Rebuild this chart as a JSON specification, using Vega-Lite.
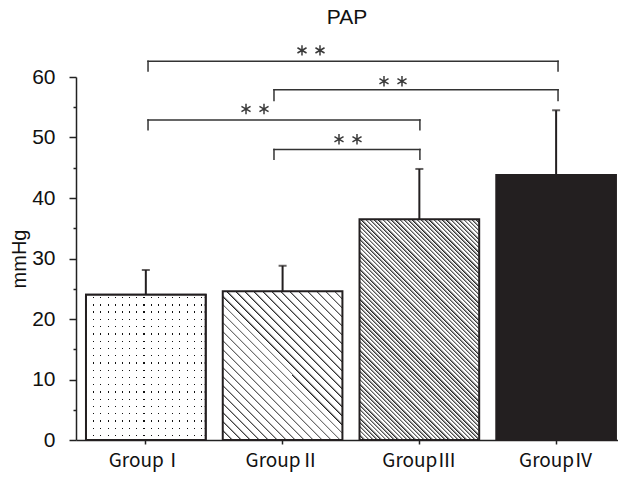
{
"$schema": "https://vega.github.io/schema/vega-lite/v6.json",
"width": 542, "height": 363,
"autosize": "none",
"padding": {"left": 76, "top": 77, "right": 0, "bottom": 38},
"background": "white",
"title": {"text": "PAP", "fontSize": 21, "font": "Liberation Sans", "fontWeight": "normal", "color": "#111", "anchor": "middle", "offset": 14},
"config": {"view": {"stroke": null}, "axis": {"grid": false}},
"datasets": {
"bars": [
{"group": "GroupⅠ", "value": 24.0, "err": 28.1},
{"group": "GroupⅡ", "value": 24.6, "err": 28.8},
{"group": "GroupⅢ", "value": 36.5, "err": 44.8},
{"group": "GroupⅣ", "value": 43.8, "err": 54.5}
],
"brackets": [
{"x1": 1.016, "x2": 4.014, "y": 62.6, "yb": 61.0},
{"x1": 1.937, "x2": 4.014, "y": 57.9, "yb": 56.1},
{"x1": 1.016, "x2": 3.004, "y": 52.9, "yb": 51.3},
{"x1": 1.937, "x2": 3.004, "y": 48.0, "yb": 46.4}
],
"stars": [
{"sx": 2.1418, "sy": 64.4}, {"sx": 2.2734, "sy": 64.4},
{"sx": 2.7414, "sy": 59.3}, {"sx": 2.8730, "sy": 59.3},
{"sx": 1.7324, "sy": 54.7}, {"sx": 1.8640, "sy": 54.7},
{"sx": 2.4124, "sy": 49.7}, {"sx": 2.5440, "sy": 49.7}
]
},
"layer": [
{
"data": {"name": "bars"},
"encoding": {
"x": {"field": "group", "type": "nominal", "sort": null,
"scale": {"domain": ["GroupⅠ", "GroupⅡ", "GroupⅢ", "GroupⅣ"], "paddingInner": 0.125, "paddingOuter": 0.044, "align": 0.83},
"axis": {"title": null, "labelAngle": 0, "labelFont": "Noto Sans CJK KR", "labelFontSize": 19, "labelColor": "#111", "labelPadding": 7, "tickSize": 4, "tickWidth": 1.5, "tickColor": "#222", "domainColor": "#222", "domainWidth": 1.5}},
"y": {"field": "value", "type": "quantitative",
"scale": {"domain": [0, 60], "nice": false},
"axis": {"title": "mmHg", "titleFont": "Liberation Sans", "titleFontSize": 20, "titleFontWeight": "normal", "titleColor": "#111", "titlePadding": 2, "values": [0, 10, 20, 30, 40, 50, 60], "labelFont": "Liberation Sans", "labelFontSize": 21, "labelColor": "#111", "labelPadding": 14, "tickSize": 7, "tickWidth": 1.5, "tickColor": "#222", "domainColor": "#222", "domainWidth": 1.5}}
},
"layer": [
{"transform": [{"filter": "datum.group === 'GroupⅠ'"}],
"mark": {"type": "bar", "stroke": "#231f20", "strokeWidth": 2, "fill": {"gradient": "linear", "x1": 0, "y1": 0, "x2": 1, "y2": 0, "stops": [
{"offset": 0, "color": "#fff"},
{"offset": 0.06, "color": "#fff"}, {"offset": 0.06, "color": "#111"}, {"offset": 0.0695, "color": "#111"}, {"offset": 0.0695, "color": "#fff"},
{"offset": 0.12, "color": "#fff"}, {"offset": 0.12, "color": "#111"}, {"offset": 0.1295, "color": "#111"}, {"offset": 0.1295, "color": "#fff"},
{"offset": 0.18, "color": "#fff"}, {"offset": 0.18, "color": "#111"}, {"offset": 0.1895, "color": "#111"}, {"offset": 0.1895, "color": "#fff"},
{"offset": 0.24, "color": "#fff"}, {"offset": 0.24, "color": "#111"}, {"offset": 0.2495, "color": "#111"}, {"offset": 0.2495, "color": "#fff"},
{"offset": 0.3, "color": "#fff"}, {"offset": 0.3, "color": "#111"}, {"offset": 0.3095, "color": "#111"}, {"offset": 0.3095, "color": "#fff"},
{"offset": 0.36, "color": "#fff"}, {"offset": 0.36, "color": "#111"}, {"offset": 0.3695, "color": "#111"}, {"offset": 0.3695, "color": "#fff"},
{"offset": 0.42, "color": "#fff"}, {"offset": 0.42, "color": "#111"}, {"offset": 0.4295, "color": "#111"}, {"offset": 0.4295, "color": "#fff"},
{"offset": 0.48, "color": "#fff"}, {"offset": 0.48, "color": "#111"}, {"offset": 0.4895, "color": "#111"}, {"offset": 0.4895, "color": "#fff"},
{"offset": 0.54, "color": "#fff"}, {"offset": 0.54, "color": "#111"}, {"offset": 0.5495, "color": "#111"}, {"offset": 0.5495, "color": "#fff"},
{"offset": 0.6, "color": "#fff"}, {"offset": 0.6, "color": "#111"}, {"offset": 0.6095, "color": "#111"}, {"offset": 0.6095, "color": "#fff"},
{"offset": 0.66, "color": "#fff"}, {"offset": 0.66, "color": "#111"}, {"offset": 0.6695, "color": "#111"}, {"offset": 0.6695, "color": "#fff"},
{"offset": 0.72, "color": "#fff"}, {"offset": 0.72, "color": "#111"}, {"offset": 0.7295, "color": "#111"}, {"offset": 0.7295, "color": "#fff"},
{"offset": 0.78, "color": "#fff"}, {"offset": 0.78, "color": "#111"}, {"offset": 0.7895, "color": "#111"}, {"offset": 0.7895, "color": "#fff"},
{"offset": 0.84, "color": "#fff"}, {"offset": 0.84, "color": "#111"}, {"offset": 0.8495, "color": "#111"}, {"offset": 0.8495, "color": "#fff"},
{"offset": 0.9, "color": "#fff"}, {"offset": 0.9, "color": "#111"}, {"offset": 0.9095, "color": "#111"}, {"offset": 0.9095, "color": "#fff"},
{"offset": 0.96, "color": "#fff"}, {"offset": 0.96, "color": "#111"}, {"offset": 0.9695, "color": "#111"}, {"offset": 0.9695, "color": "#fff"},
{"offset": 1, "color": "#fff"}]}}},
{"transform": [{"filter": "datum.group === 'GroupⅠ'"}],
"mark": {"type": "bar", "stroke": "#231f20", "strokeWidth": 2, "fill": {"gradient": "linear", "x1": 0, "y1": 0, "x2": 0, "y2": 1, "stops": [
{"offset": 0, "color": "#fff"},
{"offset": 0.015, "color": "#fff"}, {"offset": 0.015, "color": "rgba(255,255,255,0)"}, {"offset": 0.024, "color": "rgba(255,255,255,0)"}, {"offset": 0.024, "color": "#fff"},
{"offset": 0.065, "color": "#fff"}, {"offset": 0.065, "color": "rgba(255,255,255,0)"}, {"offset": 0.074, "color": "rgba(255,255,255,0)"}, {"offset": 0.074, "color": "#fff"},
{"offset": 0.115, "color": "#fff"}, {"offset": 0.115, "color": "rgba(255,255,255,0)"}, {"offset": 0.124, "color": "rgba(255,255,255,0)"}, {"offset": 0.124, "color": "#fff"},
{"offset": 0.165, "color": "#fff"}, {"offset": 0.165, "color": "rgba(255,255,255,0)"}, {"offset": 0.174, "color": "rgba(255,255,255,0)"}, {"offset": 0.174, "color": "#fff"},
{"offset": 0.215, "color": "#fff"}, {"offset": 0.215, "color": "rgba(255,255,255,0)"}, {"offset": 0.224, "color": "rgba(255,255,255,0)"}, {"offset": 0.224, "color": "#fff"},
{"offset": 0.265, "color": "#fff"}, {"offset": 0.265, "color": "rgba(255,255,255,0)"}, {"offset": 0.274, "color": "rgba(255,255,255,0)"}, {"offset": 0.274, "color": "#fff"},
{"offset": 0.315, "color": "#fff"}, {"offset": 0.315, "color": "rgba(255,255,255,0)"}, {"offset": 0.324, "color": "rgba(255,255,255,0)"}, {"offset": 0.324, "color": "#fff"},
{"offset": 0.365, "color": "#fff"}, {"offset": 0.365, "color": "rgba(255,255,255,0)"}, {"offset": 0.374, "color": "rgba(255,255,255,0)"}, {"offset": 0.374, "color": "#fff"},
{"offset": 0.415, "color": "#fff"}, {"offset": 0.415, "color": "rgba(255,255,255,0)"}, {"offset": 0.424, "color": "rgba(255,255,255,0)"}, {"offset": 0.424, "color": "#fff"},
{"offset": 0.465, "color": "#fff"}, {"offset": 0.465, "color": "rgba(255,255,255,0)"}, {"offset": 0.474, "color": "rgba(255,255,255,0)"}, {"offset": 0.474, "color": "#fff"},
{"offset": 0.515, "color": "#fff"}, {"offset": 0.515, "color": "rgba(255,255,255,0)"}, {"offset": 0.524, "color": "rgba(255,255,255,0)"}, {"offset": 0.524, "color": "#fff"},
{"offset": 0.565, "color": "#fff"}, {"offset": 0.565, "color": "rgba(255,255,255,0)"}, {"offset": 0.574, "color": "rgba(255,255,255,0)"}, {"offset": 0.574, "color": "#fff"},
{"offset": 0.615, "color": "#fff"}, {"offset": 0.615, "color": "rgba(255,255,255,0)"}, {"offset": 0.624, "color": "rgba(255,255,255,0)"}, {"offset": 0.624, "color": "#fff"},
{"offset": 0.665, "color": "#fff"}, {"offset": 0.665, "color": "rgba(255,255,255,0)"}, {"offset": 0.674, "color": "rgba(255,255,255,0)"}, {"offset": 0.674, "color": "#fff"},
{"offset": 0.715, "color": "#fff"}, {"offset": 0.715, "color": "rgba(255,255,255,0)"}, {"offset": 0.724, "color": "rgba(255,255,255,0)"}, {"offset": 0.724, "color": "#fff"},
{"offset": 0.765, "color": "#fff"}, {"offset": 0.765, "color": "rgba(255,255,255,0)"}, {"offset": 0.774, "color": "rgba(255,255,255,0)"}, {"offset": 0.774, "color": "#fff"},
{"offset": 0.815, "color": "#fff"}, {"offset": 0.815, "color": "rgba(255,255,255,0)"}, {"offset": 0.824, "color": "rgba(255,255,255,0)"}, {"offset": 0.824, "color": "#fff"},
{"offset": 0.865, "color": "#fff"}, {"offset": 0.865, "color": "rgba(255,255,255,0)"}, {"offset": 0.874, "color": "rgba(255,255,255,0)"}, {"offset": 0.874, "color": "#fff"},
{"offset": 0.915, "color": "#fff"}, {"offset": 0.915, "color": "rgba(255,255,255,0)"}, {"offset": 0.924, "color": "rgba(255,255,255,0)"}, {"offset": 0.924, "color": "#fff"},
{"offset": 0.965, "color": "#fff"}, {"offset": 0.965, "color": "rgba(255,255,255,0)"}, {"offset": 0.974, "color": "rgba(255,255,255,0)"}, {"offset": 0.974, "color": "#fff"},
{"offset": 1, "color": "#fff"}]}}},
{"transform": [{"filter": "datum.group === 'GroupⅡ'"}],
"mark": {"type": "bar", "stroke": "#231f20", "strokeWidth": 2, "fill": {"gradient": "linear", "x1": 0, "y1": 1, "x2": 0.8813, "y2": -0.0955, "stops": [
{"offset": 0, "color": "#222"}, {"offset": 0.009, "color": "#fff"},
{"offset": 0.0333, "color": "#fff"}, {"offset": 0.0333, "color": "#222"}, {"offset": 0.0423, "color": "#fff"},
{"offset": 0.0667, "color": "#fff"}, {"offset": 0.0667, "color": "#222"}, {"offset": 0.0757, "color": "#fff"},
{"offset": 0.1, "color": "#fff"}, {"offset": 0.1, "color": "#222"}, {"offset": 0.109, "color": "#fff"},
{"offset": 0.1333, "color": "#fff"}, {"offset": 0.1333, "color": "#222"}, {"offset": 0.1423, "color": "#fff"},
{"offset": 0.1667, "color": "#fff"}, {"offset": 0.1667, "color": "#222"}, {"offset": 0.1757, "color": "#fff"},
{"offset": 0.2, "color": "#fff"}, {"offset": 0.2, "color": "#222"}, {"offset": 0.209, "color": "#fff"},
{"offset": 0.2333, "color": "#fff"}, {"offset": 0.2333, "color": "#222"}, {"offset": 0.2423, "color": "#fff"},
{"offset": 0.2667, "color": "#fff"}, {"offset": 0.2667, "color": "#222"}, {"offset": 0.2757, "color": "#fff"},
{"offset": 0.3, "color": "#fff"}, {"offset": 0.3, "color": "#222"}, {"offset": 0.309, "color": "#fff"},
{"offset": 0.3333, "color": "#fff"}, {"offset": 0.3333, "color": "#222"}, {"offset": 0.3423, "color": "#fff"},
{"offset": 0.3667, "color": "#fff"}, {"offset": 0.3667, "color": "#222"}, {"offset": 0.3757, "color": "#fff"},
{"offset": 0.4, "color": "#fff"}, {"offset": 0.4, "color": "#222"}, {"offset": 0.409, "color": "#fff"},
{"offset": 0.4333, "color": "#fff"}, {"offset": 0.4333, "color": "#222"}, {"offset": 0.4423, "color": "#fff"},
{"offset": 0.4667, "color": "#fff"}, {"offset": 0.4667, "color": "#222"}, {"offset": 0.4757, "color": "#fff"},
{"offset": 0.5, "color": "#fff"}, {"offset": 0.5, "color": "#222"}, {"offset": 0.509, "color": "#fff"},
{"offset": 0.5333, "color": "#fff"}, {"offset": 0.5333, "color": "#222"}, {"offset": 0.5423, "color": "#fff"},
{"offset": 0.5667, "color": "#fff"}, {"offset": 0.5667, "color": "#222"}, {"offset": 0.5757, "color": "#fff"},
{"offset": 0.6, "color": "#fff"}, {"offset": 0.6, "color": "#222"}, {"offset": 0.609, "color": "#fff"},
{"offset": 0.6333, "color": "#fff"}, {"offset": 0.6333, "color": "#222"}, {"offset": 0.6423, "color": "#fff"},
{"offset": 0.6667, "color": "#fff"}, {"offset": 0.6667, "color": "#222"}, {"offset": 0.6757, "color": "#fff"},
{"offset": 0.7, "color": "#fff"}, {"offset": 0.7, "color": "#222"}, {"offset": 0.709, "color": "#fff"},
{"offset": 0.7333, "color": "#fff"}, {"offset": 0.7333, "color": "#222"}, {"offset": 0.7423, "color": "#fff"},
{"offset": 0.7667, "color": "#fff"}, {"offset": 0.7667, "color": "#222"}, {"offset": 0.7757, "color": "#fff"},
{"offset": 0.8, "color": "#fff"}, {"offset": 0.8, "color": "#222"}, {"offset": 0.809, "color": "#fff"},
{"offset": 0.8333, "color": "#fff"}, {"offset": 0.8333, "color": "#222"}, {"offset": 0.8423, "color": "#fff"},
{"offset": 0.8667, "color": "#fff"}, {"offset": 0.8667, "color": "#222"}, {"offset": 0.8757, "color": "#fff"},
{"offset": 0.9, "color": "#fff"}, {"offset": 0.9, "color": "#222"}, {"offset": 0.909, "color": "#fff"},
{"offset": 0.9333, "color": "#fff"}, {"offset": 0.9333, "color": "#222"}, {"offset": 0.9423, "color": "#fff"},
{"offset": 0.9667, "color": "#fff"}, {"offset": 0.9667, "color": "#222"}, {"offset": 0.9757, "color": "#fff"},
{"offset": 1, "color": "#fff"}]}}},
{"transform": [{"filter": "datum.group === 'GroupⅢ'"}],
"mark": {"type": "bar", "stroke": "#231f20", "strokeWidth": 2, "fill": {"gradient": "linear", "x1": 0, "y1": 1, "x2": 0.6461, "y2": -0.1919, "stops": [
{"offset": 0, "color": "#222"}, {"offset": 0.0085, "color": "#fff"},
{"offset": 0.0125, "color": "#fff"}, {"offset": 0.0125, "color": "#222"}, {"offset": 0.021, "color": "#fff"},
{"offset": 0.025, "color": "#fff"}, {"offset": 0.025, "color": "#222"}, {"offset": 0.0335, "color": "#fff"},
{"offset": 0.0375, "color": "#fff"}, {"offset": 0.0375, "color": "#222"}, {"offset": 0.046, "color": "#fff"},
{"offset": 0.05, "color": "#fff"}, {"offset": 0.05, "color": "#222"}, {"offset": 0.0585, "color": "#fff"},
{"offset": 0.0625, "color": "#fff"}, {"offset": 0.0625, "color": "#222"}, {"offset": 0.071, "color": "#fff"},
{"offset": 0.075, "color": "#fff"}, {"offset": 0.075, "color": "#222"}, {"offset": 0.0835, "color": "#fff"},
{"offset": 0.0875, "color": "#fff"}, {"offset": 0.0875, "color": "#222"}, {"offset": 0.096, "color": "#fff"},
{"offset": 0.1, "color": "#fff"}, {"offset": 0.1, "color": "#222"}, {"offset": 0.1085, "color": "#fff"},
{"offset": 0.1125, "color": "#fff"}, {"offset": 0.1125, "color": "#222"}, {"offset": 0.121, "color": "#fff"},
{"offset": 0.125, "color": "#fff"}, {"offset": 0.125, "color": "#222"}, {"offset": 0.1335, "color": "#fff"},
{"offset": 0.1375, "color": "#fff"}, {"offset": 0.1375, "color": "#222"}, {"offset": 0.146, "color": "#fff"},
{"offset": 0.15, "color": "#fff"}, {"offset": 0.15, "color": "#222"}, {"offset": 0.1585, "color": "#fff"},
{"offset": 0.1625, "color": "#fff"}, {"offset": 0.1625, "color": "#222"}, {"offset": 0.171, "color": "#fff"},
{"offset": 0.175, "color": "#fff"}, {"offset": 0.175, "color": "#222"}, {"offset": 0.1835, "color": "#fff"},
{"offset": 0.1875, "color": "#fff"}, {"offset": 0.1875, "color": "#222"}, {"offset": 0.196, "color": "#fff"},
{"offset": 0.2, "color": "#fff"}, {"offset": 0.2, "color": "#222"}, {"offset": 0.2085, "color": "#fff"},
{"offset": 0.2125, "color": "#fff"}, {"offset": 0.2125, "color": "#222"}, {"offset": 0.221, "color": "#fff"},
{"offset": 0.225, "color": "#fff"}, {"offset": 0.225, "color": "#222"}, {"offset": 0.2335, "color": "#fff"},
{"offset": 0.2375, "color": "#fff"}, {"offset": 0.2375, "color": "#222"}, {"offset": 0.246, "color": "#fff"},
{"offset": 0.25, "color": "#fff"}, {"offset": 0.25, "color": "#222"}, {"offset": 0.2585, "color": "#fff"},
{"offset": 0.2625, "color": "#fff"}, {"offset": 0.2625, "color": "#222"}, {"offset": 0.271, "color": "#fff"},
{"offset": 0.275, "color": "#fff"}, {"offset": 0.275, "color": "#222"}, {"offset": 0.2835, "color": "#fff"},
{"offset": 0.2875, "color": "#fff"}, {"offset": 0.2875, "color": "#222"}, {"offset": 0.296, "color": "#fff"},
{"offset": 0.3, "color": "#fff"}, {"offset": 0.3, "color": "#222"}, {"offset": 0.3085, "color": "#fff"},
{"offset": 0.3125, "color": "#fff"}, {"offset": 0.3125, "color": "#222"}, {"offset": 0.321, "color": "#fff"},
{"offset": 0.325, "color": "#fff"}, {"offset": 0.325, "color": "#222"}, {"offset": 0.3335, "color": "#fff"},
{"offset": 0.3375, "color": "#fff"}, {"offset": 0.3375, "color": "#222"}, {"offset": 0.346, "color": "#fff"},
{"offset": 0.35, "color": "#fff"}, {"offset": 0.35, "color": "#222"}, {"offset": 0.3585, "color": "#fff"},
{"offset": 0.3625, "color": "#fff"}, {"offset": 0.3625, "color": "#222"}, {"offset": 0.371, "color": "#fff"},
{"offset": 0.375, "color": "#fff"}, {"offset": 0.375, "color": "#222"}, {"offset": 0.3835, "color": "#fff"},
{"offset": 0.3875, "color": "#fff"}, {"offset": 0.3875, "color": "#222"}, {"offset": 0.396, "color": "#fff"},
{"offset": 0.4, "color": "#fff"}, {"offset": 0.4, "color": "#222"}, {"offset": 0.4085, "color": "#fff"},
{"offset": 0.4125, "color": "#fff"}, {"offset": 0.4125, "color": "#222"}, {"offset": 0.421, "color": "#fff"},
{"offset": 0.425, "color": "#fff"}, {"offset": 0.425, "color": "#222"}, {"offset": 0.4335, "color": "#fff"},
{"offset": 0.4375, "color": "#fff"}, {"offset": 0.4375, "color": "#222"}, {"offset": 0.446, "color": "#fff"},
{"offset": 0.45, "color": "#fff"}, {"offset": 0.45, "color": "#222"}, {"offset": 0.4585, "color": "#fff"},
{"offset": 0.4625, "color": "#fff"}, {"offset": 0.4625, "color": "#222"}, {"offset": 0.471, "color": "#fff"},
{"offset": 0.475, "color": "#fff"}, {"offset": 0.475, "color": "#222"}, {"offset": 0.4835, "color": "#fff"},
{"offset": 0.4875, "color": "#fff"}, {"offset": 0.4875, "color": "#222"}, {"offset": 0.496, "color": "#fff"},
{"offset": 0.5, "color": "#fff"}, {"offset": 0.5, "color": "#222"}, {"offset": 0.5085, "color": "#fff"},
{"offset": 0.5125, "color": "#fff"}, {"offset": 0.5125, "color": "#222"}, {"offset": 0.521, "color": "#fff"},
{"offset": 0.525, "color": "#fff"}, {"offset": 0.525, "color": "#222"}, {"offset": 0.5335, "color": "#fff"},
{"offset": 0.5375, "color": "#fff"}, {"offset": 0.5375, "color": "#222"}, {"offset": 0.546, "color": "#fff"},
{"offset": 0.55, "color": "#fff"}, {"offset": 0.55, "color": "#222"}, {"offset": 0.5585, "color": "#fff"},
{"offset": 0.5625, "color": "#fff"}, {"offset": 0.5625, "color": "#222"}, {"offset": 0.571, "color": "#fff"},
{"offset": 0.575, "color": "#fff"}, {"offset": 0.575, "color": "#222"}, {"offset": 0.5835, "color": "#fff"},
{"offset": 0.5875, "color": "#fff"}, {"offset": 0.5875, "color": "#222"}, {"offset": 0.596, "color": "#fff"},
{"offset": 0.6, "color": "#fff"}, {"offset": 0.6, "color": "#222"}, {"offset": 0.6085, "color": "#fff"},
{"offset": 0.6125, "color": "#fff"}, {"offset": 0.6125, "color": "#222"}, {"offset": 0.621, "color": "#fff"},
{"offset": 0.625, "color": "#fff"}, {"offset": 0.625, "color": "#222"}, {"offset": 0.6335, "color": "#fff"},
{"offset": 0.6375, "color": "#fff"}, {"offset": 0.6375, "color": "#222"}, {"offset": 0.646, "color": "#fff"},
{"offset": 0.65, "color": "#fff"}, {"offset": 0.65, "color": "#222"}, {"offset": 0.6585, "color": "#fff"},
{"offset": 0.6625, "color": "#fff"}, {"offset": 0.6625, "color": "#222"}, {"offset": 0.671, "color": "#fff"},
{"offset": 0.675, "color": "#fff"}, {"offset": 0.675, "color": "#222"}, {"offset": 0.6835, "color": "#fff"},
{"offset": 0.6875, "color": "#fff"}, {"offset": 0.6875, "color": "#222"}, {"offset": 0.696, "color": "#fff"},
{"offset": 0.7, "color": "#fff"}, {"offset": 0.7, "color": "#222"}, {"offset": 0.7085, "color": "#fff"},
{"offset": 0.7125, "color": "#fff"}, {"offset": 0.7125, "color": "#222"}, {"offset": 0.721, "color": "#fff"},
{"offset": 0.725, "color": "#fff"}, {"offset": 0.725, "color": "#222"}, {"offset": 0.7335, "color": "#fff"},
{"offset": 0.7375, "color": "#fff"}, {"offset": 0.7375, "color": "#222"}, {"offset": 0.746, "color": "#fff"},
{"offset": 0.75, "color": "#fff"}, {"offset": 0.75, "color": "#222"}, {"offset": 0.7585, "color": "#fff"},
{"offset": 0.7625, "color": "#fff"}, {"offset": 0.7625, "color": "#222"}, {"offset": 0.771, "color": "#fff"},
{"offset": 0.775, "color": "#fff"}, {"offset": 0.775, "color": "#222"}, {"offset": 0.7835, "color": "#fff"},
{"offset": 0.7875, "color": "#fff"}, {"offset": 0.7875, "color": "#222"}, {"offset": 0.796, "color": "#fff"},
{"offset": 0.8, "color": "#fff"}, {"offset": 0.8, "color": "#222"}, {"offset": 0.8085, "color": "#fff"},
{"offset": 0.8125, "color": "#fff"}, {"offset": 0.8125, "color": "#222"}, {"offset": 0.821, "color": "#fff"},
{"offset": 0.825, "color": "#fff"}, {"offset": 0.825, "color": "#222"}, {"offset": 0.8335, "color": "#fff"},
{"offset": 0.8375, "color": "#fff"}, {"offset": 0.8375, "color": "#222"}, {"offset": 0.846, "color": "#fff"},
{"offset": 0.85, "color": "#fff"}, {"offset": 0.85, "color": "#222"}, {"offset": 0.8585, "color": "#fff"},
{"offset": 0.8625, "color": "#fff"}, {"offset": 0.8625, "color": "#222"}, {"offset": 0.871, "color": "#fff"},
{"offset": 0.875, "color": "#fff"}, {"offset": 0.875, "color": "#222"}, {"offset": 0.8835, "color": "#fff"},
{"offset": 0.8875, "color": "#fff"}, {"offset": 0.8875, "color": "#222"}, {"offset": 0.896, "color": "#fff"},
{"offset": 0.9, "color": "#fff"}, {"offset": 0.9, "color": "#222"}, {"offset": 0.9085, "color": "#fff"},
{"offset": 0.9125, "color": "#fff"}, {"offset": 0.9125, "color": "#222"}, {"offset": 0.921, "color": "#fff"},
{"offset": 0.925, "color": "#fff"}, {"offset": 0.925, "color": "#222"}, {"offset": 0.9335, "color": "#fff"},
{"offset": 0.9375, "color": "#fff"}, {"offset": 0.9375, "color": "#222"}, {"offset": 0.946, "color": "#fff"},
{"offset": 0.95, "color": "#fff"}, {"offset": 0.95, "color": "#222"}, {"offset": 0.9585, "color": "#fff"},
{"offset": 0.9625, "color": "#fff"}, {"offset": 0.9625, "color": "#222"}, {"offset": 0.971, "color": "#fff"},
{"offset": 0.975, "color": "#fff"}, {"offset": 0.975, "color": "#222"}, {"offset": 0.9835, "color": "#fff"},
{"offset": 0.9875, "color": "#fff"}, {"offset": 0.9875, "color": "#222"}, {"offset": 0.996, "color": "#fff"},
{"offset": 1, "color": "#fff"}]}}},
{"transform": [{"filter": "datum.group === 'GroupⅣ'"}],
"mark": {"type": "bar", "stroke": "#231f20", "strokeWidth": 2, "fill": "#231f20"}},
{"mark": {"type": "rule", "color": "#231f20", "strokeWidth": 2},
"encoding": {"y2": {"field": "err"}}},
{"mark": {"type": "tick", "color": "#231f20", "thickness": 2, "size": 8},
"encoding": {"y": {"field": "err", "type": "quantitative"}}}
]
},
{
"data": {"name": "brackets"},
"encoding": {
"x": {"field": "x1", "type": "quantitative", "scale": {"domain": [0.4893, 4.4525], "nice": false, "zero": false}, "axis": null},
"y": {"field": "y", "type": "quantitative", "scale": {"domain": [0, 60], "nice": false},
"axis": {"orient": "left", "title": null, "values": [5, 15, 25, 35, 45, 55], "labels": false, "domain": false, "tickSize": 3, "tickWidth": 1.5, "tickColor": "#222"}}
},
"layer": [
{"mark": {"type": "rule", "stroke": "#333", "strokeWidth": 1.5, "strokeCap": "square"},
"encoding": {"x2": {"field": "x2"}}},
{"mark": {"type": "rule", "stroke": "#333", "strokeWidth": 1.5, "strokeCap": "square"},
"encoding": {"y2": {"field": "yb"}}},
{"mark": {"type": "rule", "stroke": "#333", "strokeWidth": 1.5, "strokeCap": "square"},
"encoding": {"x": {"field": "x2", "type": "quantitative"}, "y2": {"field": "yb"}}},
{"data": {"name": "stars"},
"mark": {"type": "point", "shape": "M0,-1L0,1M-0.866,-0.5L0.866,0.5M-0.866,0.5L0.866,-0.5", "filled": false, "stroke": "#3a3a3a", "strokeWidth": 1.5, "size": 110, "opacity": 1},
"encoding": {"x": {"field": "sx", "type": "quantitative"}, "y": {"field": "sy", "type": "quantitative"}}}
]
}
],
"resolve": {"scale": {"x": "independent", "y": "independent"}}
}
